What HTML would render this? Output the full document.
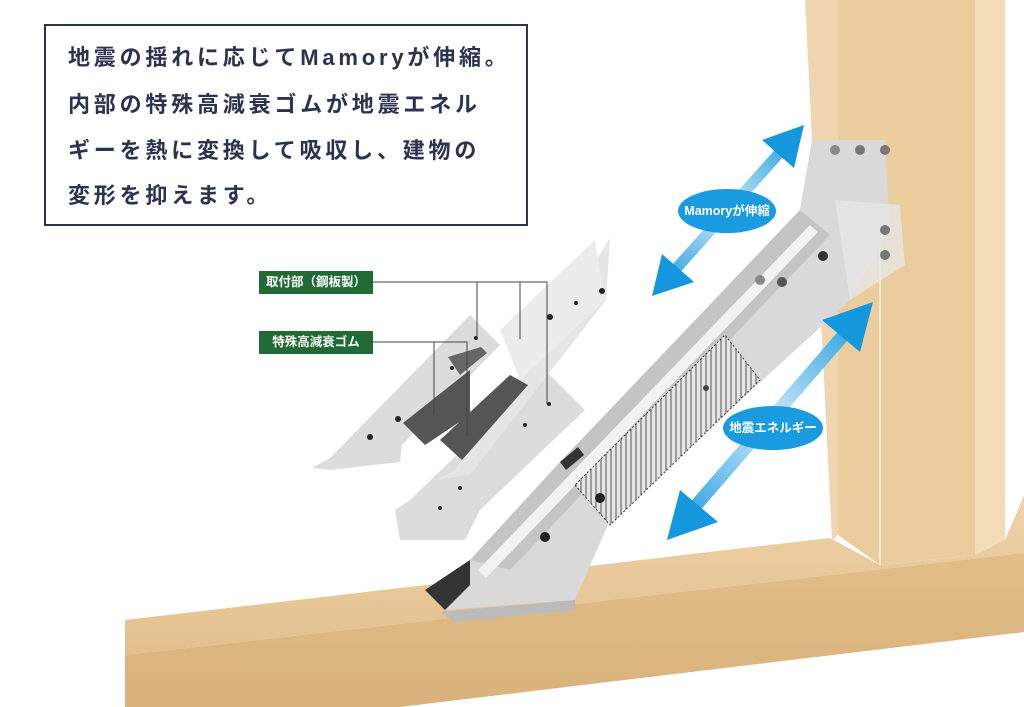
<!DOCTYPE html>
<html><head><meta charset="utf-8"><style>
html,body{margin:0;padding:0;background:#fff;}
body{width:1024px;height:707px;overflow:hidden;position:relative;font-family:"Liberation Sans","Noto Sans CJK JP",sans-serif;}
svg{position:absolute;left:0;top:0;}
.box{position:absolute;left:44px;top:24px;width:480px;height:198px;border:2px solid #2b3350;background:#fff;}
.box p{margin:0;position:absolute;left:22px;font-size:22px;font-weight:bold;color:#2b3350;letter-spacing:3.8px;white-space:nowrap;}
.lab{position:absolute;left:259px;width:114px;height:23px;background:#1f6a35;color:#fff;font-size:12.5px;font-weight:bold;line-height:23px;text-align:center;}
.ov{position:absolute;color:#fff;font-size:12.5px;font-weight:bold;text-align:center;border-radius:50%;background:#1a9be0;}
</style></head><body>
<svg width="1024" height="707" viewBox="0 0 1024 707">
<defs>
<linearGradient id="wt" x1="0" y1="0" x2="0" y2="1"><stop offset="0" stop-color="#eed3ab"/><stop offset="1" stop-color="#e3bf8c"/></linearGradient>
<linearGradient id="wf" x1="0" y1="0" x2="0" y2="1"><stop offset="0" stop-color="#e2bd88"/><stop offset="1" stop-color="#d9b27c"/></linearGradient>
<linearGradient id="sh1" gradientUnits="userSpaceOnUse" x1="655" y1="293" x2="800" y2="128"><stop offset="0" stop-color="#1497dc"/><stop offset="0.5" stop-color="#cbe9f9"/><stop offset="1" stop-color="#1497dc"/></linearGradient>
<linearGradient id="sh2" gradientUnits="userSpaceOnUse" x1="670" y1="535" x2="868" y2="305"><stop offset="0" stop-color="#1497dc"/><stop offset="0.5" stop-color="#cbe9f9"/><stop offset="1" stop-color="#1497dc"/></linearGradient>
<pattern id="hat" width="5" height="5" patternUnits="userSpaceOnUse"><rect width="5" height="5" fill="#e6e6e6"/><line x1="1" y1="0" x2="1" y2="5" stroke="#555" stroke-width="1"/></pattern>
</defs>
<!-- post -->
<polygon points="805,0 838,0 838,535 832,540" fill="#efd6b0"/>
<polygon points="838,0 975,0 975,555 880,565 838,535" fill="#ebcc9c"/>
<polygon points="975,0 1005,0 1005,540 975,555" fill="#f3dcb8"/>
<line x1="880" y1="140" x2="880" y2="565" stroke="#fff" stroke-width="1.5" opacity="0.8"/>
<!-- beam -->
<polygon points="125,620 830,538 880,565 975,555 1005,540 1024,495 1024,553 125,655" fill="url(#wt)"/>
<polygon points="125,655 1024,553 1024,632 400,707 125,707" fill="url(#wf)"/>
<!-- main brace -->
<polygon points="425,590 470,560 560,462 800,210 812,140 885,140 890,230 850,300 610,520 575,600 445,610" fill="#d9d9d9"/>
<polygon points="470,560 560,462 800,210 830,235 600,475 510,570" fill="#c4c4c4"/>
<polygon points="478,570 810,225 818,232 486,578" fill="#f2f2f2"/>
<polygon points="835,200 900,205 905,265 850,300" fill="#e6e6e6" opacity="0.8"/>
<polygon points="575,485 610,525 760,380 725,335" fill="url(#hat)" stroke="#333" stroke-dasharray="2,2"/>
<polygon points="425,590 470,560 470,585 445,610" fill="#333"/>
<polygon points="440,612 575,600 575,610 455,622" fill="#bbb"/>
<circle cx="545" cy="537" r="5" fill="#222"/><circle cx="600" cy="498" r="5" fill="#222"/>
<circle cx="706" cy="388" r="3" fill="#444"/>
<circle cx="782" cy="282" r="5" fill="#555"/><circle cx="823" cy="256" r="5" fill="#333"/><circle cx="760" cy="280" r="5" fill="#888"/>
<circle cx="860" cy="150" r="5" fill="#777"/><circle cx="885" cy="150" r="5" fill="#777"/><circle cx="835" cy="150" r="5" fill="#888"/>
<circle cx="885" cy="230" r="5" fill="#777"/><circle cx="885" cy="255" r="5" fill="#777"/>
<polygon points="560,462 578,447 584,455 566,470" fill="#333"/>
<!-- exploded parts -->
<polygon points="312,468 330,458 470,315 500,345 402,445 400,462 330,470" fill="#dcdcdc"/>
<polygon points="395,510 410,500 545,370 585,410 480,510 465,540 400,540" fill="#dcdcdc"/>
<polygon points="435,480 455,470 590,270 610,238 606,300 470,475" fill="#e5e5e5"/>
<polygon points="500,330 595,240 605,300 520,380" fill="#ececec"/>
<polygon points="403,423 470,370 470,415 425,445" fill="#555"/>
<polygon points="440,440 510,375 528,385 462,460" fill="#555"/>
<polygon points="448,357 481,347 487,353 460,375" fill="#666"/>
<g fill="#222"><circle cx="370" cy="437" r="3"/><circle cx="398" cy="419" r="3"/><circle cx="452" cy="368" r="2"/><circle cx="476" cy="338" r="2"/><circle cx="525" cy="425" r="2"/><circle cx="549" cy="404" r="2"/><circle cx="460" cy="488" r="2"/><circle cx="440" cy="508" r="2"/><circle cx="576" cy="303" r="2"/><circle cx="602" cy="291" r="3"/><circle cx="550" cy="317" r="3"/></g>
<!-- leader lines -->
<g stroke="#444" stroke-width="1" fill="none">
<polyline points="373,282 547,282 547,404"/><line x1="477" y1="282" x2="477" y2="339"/><line x1="520" y1="282" x2="520" y2="339"/>
<polyline points="373,342 467,342 467,436"/><line x1="434" y1="342" x2="434" y2="414"/>
</g>
<!-- arrows -->
<line x1="675" y1="270" x2="782" y2="150" stroke="url(#sh1)" stroke-width="11"/>
<polygon points="652,296 662,254 694,282" fill="#1497dc"/>
<polygon points="804,125 794,168 762,140" fill="#1497dc"/>
<line x1="692" y1="510" x2="848" y2="330" stroke="url(#sh2)" stroke-width="13"/>
<polygon points="667,540 680,490 718,522" fill="#1497dc"/>
<polygon points="873,302 860,352 822,320" fill="#1497dc"/>
</svg>
<div class="box">
<p style="top:14px">地震の揺れに応じてMamoryが伸縮。</p>
<p style="top:61px">内部の特殊高減衰ゴムが地震エネル</p>
<p style="top:107px">ギーを熱に変換して吸収し、建物の</p>
<p style="top:152px">変形を抑えます。</p>
</div>
<div class="lab" style="top:271px">取付部（鋼板製）</div>
<div class="lab" style="top:331px">特殊高減衰ゴム</div>
<div class="ov" style="left:678px;top:189px;width:98px;height:44px;line-height:44px;">Mamoryが伸縮</div>
<div class="ov" style="left:723px;top:406px;width:100px;height:44px;line-height:44px;">地震エネルギー</div>
</body></html>
